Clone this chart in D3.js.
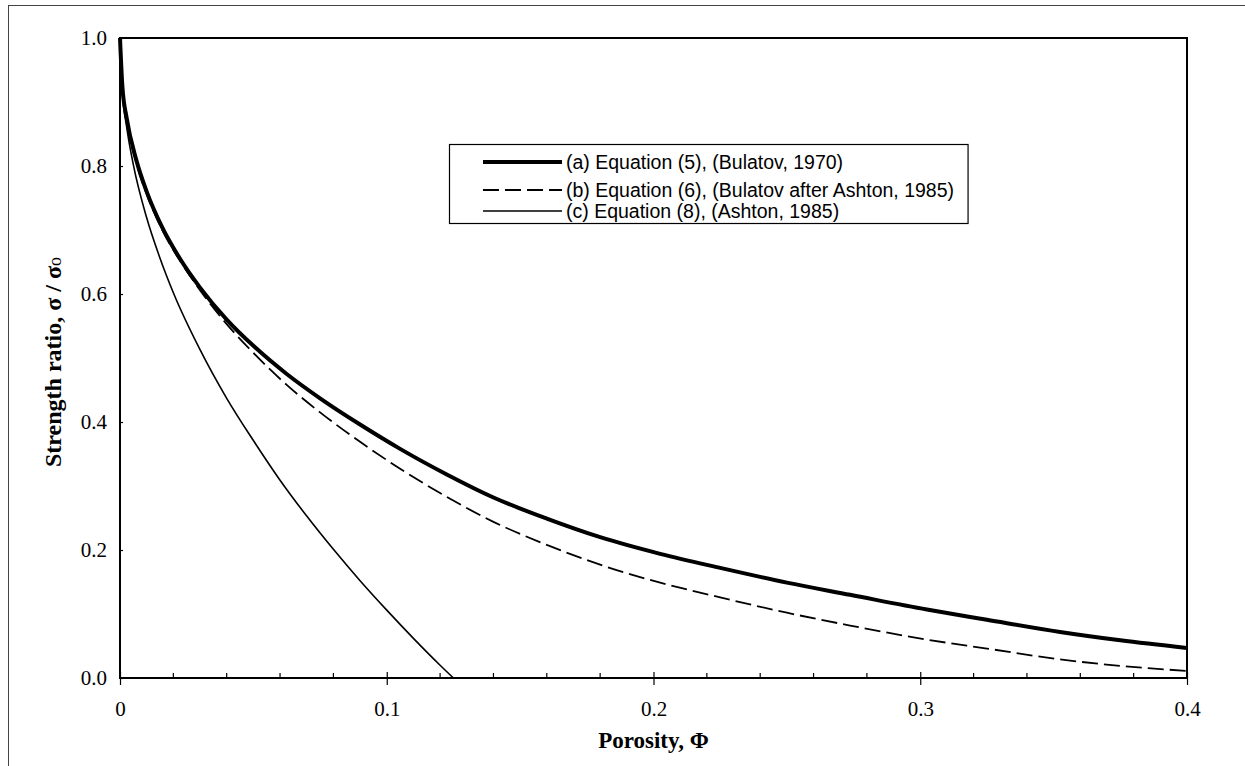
<!DOCTYPE html>
<html>
<head>
<meta charset="utf-8">
<script src="https://cdn.jsdelivr.net/npm/d3@7"></script>
<style>
  body { margin: 0; background: #fff; }
  svg { display: block; }
</style>
</head>
<body>
<div id="chart"></div>
<script>
// values: [porosity, strength ratio]
const seriesA = [
  [0, 1.0], [0.0009, 0.924], [0.0025, 0.875], [0.0062, 0.808], [0.01, 0.76],
  [0.0156, 0.706], [0.0225, 0.655], [0.03, 0.610], [0.04, 0.560], [0.05, 0.519],
  [0.0625, 0.475], [0.075, 0.437], [0.09, 0.396], [0.105, 0.358], [0.1225, 0.318],
  [0.14, 0.282], [0.16, 0.249], [0.18, 0.220], [0.2025, 0.194], [0.225, 0.172],
  [0.25, 0.149], [0.2737, 0.130], [0.3025, 0.107], [0.325, 0.091], [0.3524, 0.072],
  [0.375, 0.059], [0.4, 0.047],
];
const seriesB = [
  [0, 1.0], [0.0009, 0.922], [0.0025, 0.872], [0.0062, 0.804], [0.01, 0.756],
  [0.0156, 0.702], [0.0225, 0.652], [0.03, 0.606], [0.04, 0.553], [0.05, 0.508],
  [0.0625, 0.458], [0.075, 0.415], [0.09, 0.369], [0.105, 0.327], [0.1225, 0.283],
  [0.14, 0.244], [0.16, 0.208], [0.18, 0.177], [0.2025, 0.149], [0.225, 0.126],
  [0.25, 0.102], [0.2737, 0.082], [0.3025, 0.060], [0.325, 0.046], [0.3524, 0.029],
  [0.375, 0.019], [0.4, 0.011],
];
const seriesC = [
  [0, 1.0], [0.0008, 0.92], [0.0025, 0.861], [0.005, 0.802], [0.01, 0.719],
  [0.015, 0.656], [0.02, 0.602], [0.03, 0.513], [0.04, 0.437], [0.05, 0.371],
  [0.06, 0.309], [0.07, 0.253], [0.08, 0.201], [0.09, 0.152], [0.1, 0.106],
  [0.11, 0.062], [0.12, 0.020], [0.125, 0.0],
];
const legendLabels = [
  '(a) Equation (5), (Bulatov, 1970)',
  '(b) Equation (6), (Bulatov after Ashton, 1985)',
  '(c) Equation (8), (Ashton, 1985)',
];
const xTicks = [0, 0.1, 0.2, 0.3, 0.4];
const xTickLabels = ['0', '0.1', '0.2', '0.3', '0.4'];
const xMinorTicks = d3.range(1, 20).map((i) => i / 50);
const yTicks = [0, 0.2, 0.4, 0.6, 0.8, 1.0];

const W = 1245;
const H = 766;
const plot = { left: 120, top: 38, right: 1187, bottom: 678 };
const serif = '"Liberation Serif", "Times New Roman", serif';
const sans = '"Liberation Sans", Arial, sans-serif';

const svg = d3.select('#chart').append('svg')
  .attr('width', W)
  .attr('height', H);

// outer frame of the figure (bottom/right fall off the page)
svg.append('rect')
  .attr('x', 8.5).attr('y', 5.5)
  .attr('width', 1250).attr('height', 800)
  .attr('fill', 'none')
  .attr('stroke', '#444')
  .attr('stroke-width', 1);

const x = d3.scaleLinear().domain([0, 0.4]).range([plot.left, plot.right]);
const y = d3.scaleLinear().domain([0, 1]).range([plot.bottom, plot.top]);

// y axis
const yAxis = svg.append('g')
  .attr('transform', `translate(${plot.left},0)`)
  .call(d3.axisLeft(y).tickValues(yTicks).tickFormat(d3.format('.1f')).tickSize(7).tickPadding(6));
yAxis.select('.domain').remove();
yAxis.selectAll('.tick line').attr('x2', 3).attr('stroke-width', 1.2);
yAxis.selectAll('.tick text')
  .attr('font-family', serif).attr('font-size', 21).attr('fill', '#000');

// x axis
const xAxis = svg.append('g')
  .attr('transform', `translate(0,${plot.bottom})`)
  .call(d3.axisBottom(x).tickValues(xTicks).tickFormat((d, i) => xTickLabels[i]).tickSize(7).tickPadding(16));
xAxis.select('.domain').remove();
xAxis.selectAll('.tick line').attr('y1', -6).attr('stroke-width', 1.2);
xAxis.selectAll('.tick text')
  .attr('font-family', serif).attr('font-size', 21).attr('fill', '#000');

// minor x ticks pointing inward
svg.append('g').selectAll('line')
  .data(xMinorTicks.filter((d) => !xTicks.some((t) => Math.abs(t - d) < 1e-9)))
  .join('line')
  .attr('x1', (d) => x(d)).attr('x2', (d) => x(d))
  .attr('y1', plot.bottom).attr('y2', plot.bottom - 5)
  .attr('stroke', '#000').attr('stroke-width', 1.2);

// plot box
svg.append('rect')
  .attr('x', plot.left).attr('y', plot.top)
  .attr('width', plot.right - plot.left).attr('height', plot.bottom - plot.top)
  .attr('fill', 'none').attr('stroke', '#000').attr('stroke-width', 2);

// curves
const line = d3.line()
  .x((d) => x(d[0]))
  .y((d) => y(d[1]))
  .curve(d3.curveMonotoneX);

const styles = [
  { width: 4, dash: null },
  { width: 1.8, dash: '16,6' },
  { width: 1.6, dash: null },
];

[seriesA, seriesB, seriesC].forEach((s, i) => {
  svg.append('path')
    .datum(s)
    .attr('d', line)
    .attr('fill', 'none')
    .attr('stroke', '#000')
    .attr('stroke-width', styles[i].width)
    .attr('stroke-dasharray', styles[i].dash);
});

// legend
const legend = svg.append('g');
const legendBox = legend.append('rect')
  .attr('x', 449.5).attr('y', 144.5)
  .attr('height', 79)
  .attr('fill', '#fff').attr('stroke', '#000').attr('stroke-width', 1.2);
const rowY = [162, 190, 211];
let textRight = 0;
legendLabels.forEach((label, i) => {
  legend.append('line')
    .attr('x1', 483).attr('x2', 562)
    .attr('y1', rowY[i]).attr('y2', rowY[i])
    .attr('stroke', '#000')
    .attr('stroke-width', styles[i].width)
    .attr('stroke-dasharray', styles[i].dash);
  const t = legend.append('text')
    .attr('x', 566).attr('y', rowY[i])
    .attr('dy', '0.36em')
    .attr('font-family', sans).attr('font-size', 19.5)
    .text(label);
  textRight = Math.max(textRight, 566 + t.node().getComputedTextLength());
});
legendBox.attr('width', textRight + 14 - 449.5);

// axis titles
svg.append('text')
  .attr('x', (plot.left + plot.right) / 2).attr('y', 748)
  .attr('text-anchor', 'middle')
  .attr('font-family', serif).attr('font-weight', 'bold').attr('font-size', 23)
  .text('Porosity, Φ');

const yTitle = svg.append('text')
  .attr('transform', `translate(61,362) rotate(-90)`)
  .attr('text-anchor', 'middle')
  .attr('font-family', serif).attr('font-weight', 'bold').attr('font-size', 24);
yTitle.append('tspan').text('Strength ratio, σ / σ');
yTitle.append('tspan').attr('font-size', 18).attr('font-weight', 'normal').text('o');
</script>
</body>
</html>
